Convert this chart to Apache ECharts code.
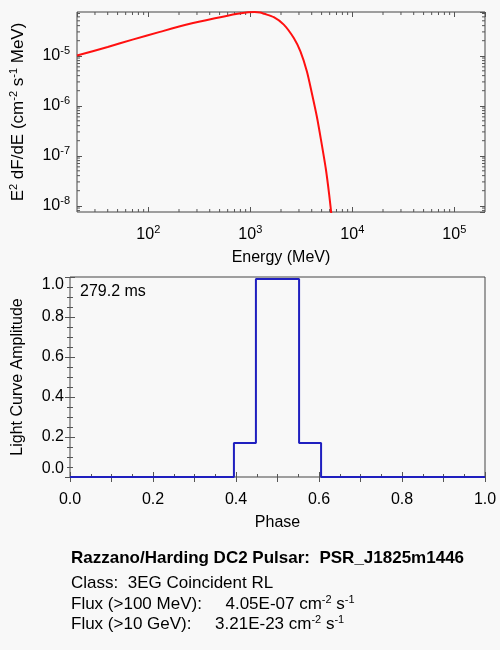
<!DOCTYPE html>
<html>
<head>
<meta charset="utf-8">
<script src="https://cdn.jsdelivr.net/npm/echarts@6/dist/echarts.min.js"></script>
<style>
html, body { margin: 0; padding: 0; background: #f8f8f8; }
#chart { width: 500px; height: 650px; }
</style>
</head>
<body>
<div id="chart"></div>
<script>
// spectrum (MeV, E^2 dF/dE)
var energy = [20, 40, 70, 130, 250, 450, 750, 950, 1100, 1250, 1370, 1700, 2130, 2670, 3100, 3590, 4010, 4490, 4900, 5500, 5950, 6300];
var e2dfde = [1.01e-5, 1.5e-5, 2.1e-5, 3.0e-5, 4.3e-5, 5.6e-5, 6.9e-5, 7.4e-5, 7.5e-5, 7.35e-5, 6.9e-5, 5.9e-5, 4.2e-5, 2.26e-5, 1.22e-5, 4.85e-6, 1.8e-6, 6.1e-7, 2.26e-7, 5.5e-8, 1.6e-8, 5.5e-9];

// light curve: level holds from each edge to the next
var phaseEdges = [0, 0.395, 0.448, 0.552, 0.605, 1.0];
var amplitude = [0, 0.17, 0.99, 0.17, 0, 0];

var eMin = 20, eMax = 2e5;
var fMin = 7.5e-9, fMax = 7.5e-5;

var font = 'Liberation Sans';
var sup = {fontSize: 11, fontFamily: font, color: '#000', verticalAlign: 'top', lineHeight: 21};
var base = {fontSize: 16, fontFamily: font, color: '#000', lineHeight: 21};

// minor ticks at 2..9 x 10^n
var xMinor = [];
var yMinor = [];
for (var d = -9; d <= 5; d++) {
    for (var m = 2; m <= 9; m++) {
        var v = m * Math.pow(10, d);
        if (v > eMin && v < eMax) xMinor.push([v, fMin]);
        if (v > fMin && v < fMax) yMinor.push([eMin, v]);
    }
}

function powLabel(value) {
    var exp = Math.round(Math.log10(value));
    return '{b|10}{s|' + exp + '}';
}

var tickStyle = {stroke: '#555', lineWidth: 1};

function renderXMinor(params, api) {
    var cs = params.coordSys;
    var x = api.coord([api.value(0), fMin])[0];
    var yb = cs.y + cs.height;
    return {
        type: 'group',
        children: [
            {type: 'line', shape: {x1: x, y1: yb, x2: x, y2: yb - 3}, style: tickStyle},
            {type: 'line', shape: {x1: x, y1: cs.y, x2: x, y2: cs.y + 3}, style: tickStyle}
        ]
    };
}

function renderYMinor(params, api) {
    var cs = params.coordSys;
    var y = api.coord([eMin, api.value(1)])[1];
    var xr = cs.x + cs.width;
    return {
        type: 'group',
        children: [
            {type: 'line', shape: {x1: cs.x, y1: y, x2: cs.x + 3, y2: y}, style: tickStyle},
            {type: 'line', shape: {x1: xr, y1: y, x2: xr - 3, y2: y}, style: tickStyle}
        ]
    };
}

var stepData = phaseEdges.map(function (p, i) { return [p, amplitude[i]]; });
var specData = energy.map(function (e, i) { return [e, e2dfde[i]]; });

var chart = echarts.init(document.getElementById('chart'));

var inTick = {show: true, inside: true, length: 5, lineStyle: {color: '#555', width: 1}};
var supRich = {
    b: {fontSize: 17, fontFamily: font, fill: '#000', color: '#000', lineHeight: 21},
    s: {fontSize: 11, fontFamily: font, fill: '#000', color: '#000', verticalAlign: 'top', lineHeight: 21}
};

chart.setOption({
    backgroundColor: '#f8f8f8',
    animation: false,
    textStyle: {fontFamily: font},
    grid: [
        {left: 70, top: 12, width: 415, height: 200, show: true, borderColor: '#444', borderWidth: 1, backgroundColor: 'transparent'},
        {left: 70, top: 277, width: 415, height: 200, show: true, borderColor: '#444', borderWidth: 1, backgroundColor: 'transparent'}
    ],
    xAxis: [
        {
            gridIndex: 0, type: 'log', logBase: 10, min: eMin, max: eMax, splitNumber: 4,
            axisLine: {show: false}, axisTick: inTick, splitLine: {show: false},
            axisLabel: {margin: 12, formatter: powLabel, showMinLabel: false, showMaxLabel: false, rich: {b: base, s: sup}},
            name: 'Energy (MeV)', nameLocation: 'middle', nameGap: 38,
            nameTextStyle: {fontSize: 16, color: '#000', fontFamily: font}
        },
        {
            gridIndex: 0, type: 'log', logBase: 10, min: eMin, max: eMax, splitNumber: 4, position: 'top',
            axisLine: {show: false}, axisTick: inTick, axisLabel: {show: false}, splitLine: {show: false}
        },
        {
            gridIndex: 1, type: 'value', min: 0, max: 1, interval: 0.2,
            axisLine: {show: false}, axisTick: inTick, splitLine: {show: false},
            minorTick: {show: true, splitNumber: 4, length: 3, lineStyle: {color: '#555'}},
            axisLabel: {margin: 15, fontSize: 16, color: '#000', formatter: function (v) { return v.toFixed(1); }},
            name: 'Phase', nameLocation: 'middle', nameGap: 38,
            nameTextStyle: {fontSize: 16, color: '#000', fontFamily: font}
        },
        {
            gridIndex: 1, type: 'value', min: 0, max: 1, interval: 0.1, position: 'top',
            axisLine: {show: false}, axisTick: inTick, axisLabel: {show: false}, splitLine: {show: false}
        }
    ],
    yAxis: [
        {
            gridIndex: 0, type: 'log', logBase: 10, min: fMin, max: fMax, splitNumber: 4,
            axisLine: {show: false}, axisTick: inTick, splitLine: {show: false},
            axisLabel: {margin: 7, formatter: powLabel, showMinLabel: false, showMaxLabel: false, rich: {b: base, s: sup}},
            name: '{b|E}{s|2}{b| dF/dE (cm}{s|-2}{b| s}{s|-1}{b| MeV)}', nameLocation: 'middle', nameGap: 48, nameRotate: 90,
            nameTextStyle: {fontSize: 17, color: '#000', fontFamily: font, rich: supRich}
        },
        {
            gridIndex: 0, type: 'log', logBase: 10, min: fMin, max: fMax, splitNumber: 4, position: 'right',
            axisLine: {show: false}, axisTick: inTick, axisLabel: {show: false}, splitLine: {show: false}
        },
        {
            gridIndex: 1, type: 'value', min: 0, max: 1, interval: 0.2,
            axisLine: {show: false}, axisTick: inTick, splitLine: {show: false},
            minorTick: {show: true, splitNumber: 4, length: 3, lineStyle: {color: '#555'}},
            axisLabel: {margin: 6, fontSize: 16, color: '#000', verticalAlignMinLabel: 'bottom', verticalAlignMaxLabel: 'top',
                formatter: function (v) { return v.toFixed(1); }},
            name: 'Light Curve Amplitude', nameLocation: 'middle', nameGap: 44,
            nameTextStyle: {fontSize: 16, color: '#000', fontFamily: font}
        },
        {
            gridIndex: 1, type: 'value', min: 0, max: 1, interval: 0.2, position: 'right',
            axisLine: {show: false}, axisTick: inTick, axisLabel: {show: false}, splitLine: {show: false},
            minorTick: {show: true, splitNumber: 4, length: 3, lineStyle: {color: '#555'}}
        }
    ],
    graphic: [
        {type: 'text', left: 80, top: 284, style: {text: '279.2 ms', font: '16px "Liberation Sans"', fill: '#000'}},
        {type: 'text', left: 71, top: 550, style: {text: 'Razzano/Harding DC2 Pulsar:  PSR_J1825m1446', font: 'bold 17px "Liberation Sans"', fill: '#000'}},
        {type: 'text', left: 71, top: 575, style: {text: 'Class:  3EG Coincident RL', font: '17px "Liberation Sans"', fill: '#000'}},
        {type: 'text', left: 71, top: 594, style: {
            text: '{b|Flux (>100 MeV):     4.05E-07 cm}{s|-2}{b| s}{s|-1}', rich: supRich
        }},
        {type: 'text', left: 71, top: 614, style: {
            text: '{b|Flux (>10 GeV):     3.21E-23 cm}{s|-2}{b| s}{s|-1}', rich: supRich
        }}
    ],
    series: [
        {
            type: 'line', xAxisIndex: 0, yAxisIndex: 0, data: specData,
            smooth: 0.25, showSymbol: false, clip: true,
            lineStyle: {color: '#ff1010', width: 2}
        },
        {
            type: 'custom', xAxisIndex: 0, yAxisIndex: 0, data: xMinor, renderItem: renderXMinor, silent: true, clip: false
        },
        {
            type: 'custom', xAxisIndex: 0, yAxisIndex: 0, data: yMinor, renderItem: renderYMinor, silent: true, clip: false
        },
        {
            type: 'line', xAxisIndex: 2, yAxisIndex: 2, data: stepData, step: 'end',
            showSymbol: false, lineStyle: {color: '#1f1fbf', width: 2}
        }
    ]
});
</script>
</body>
</html>
